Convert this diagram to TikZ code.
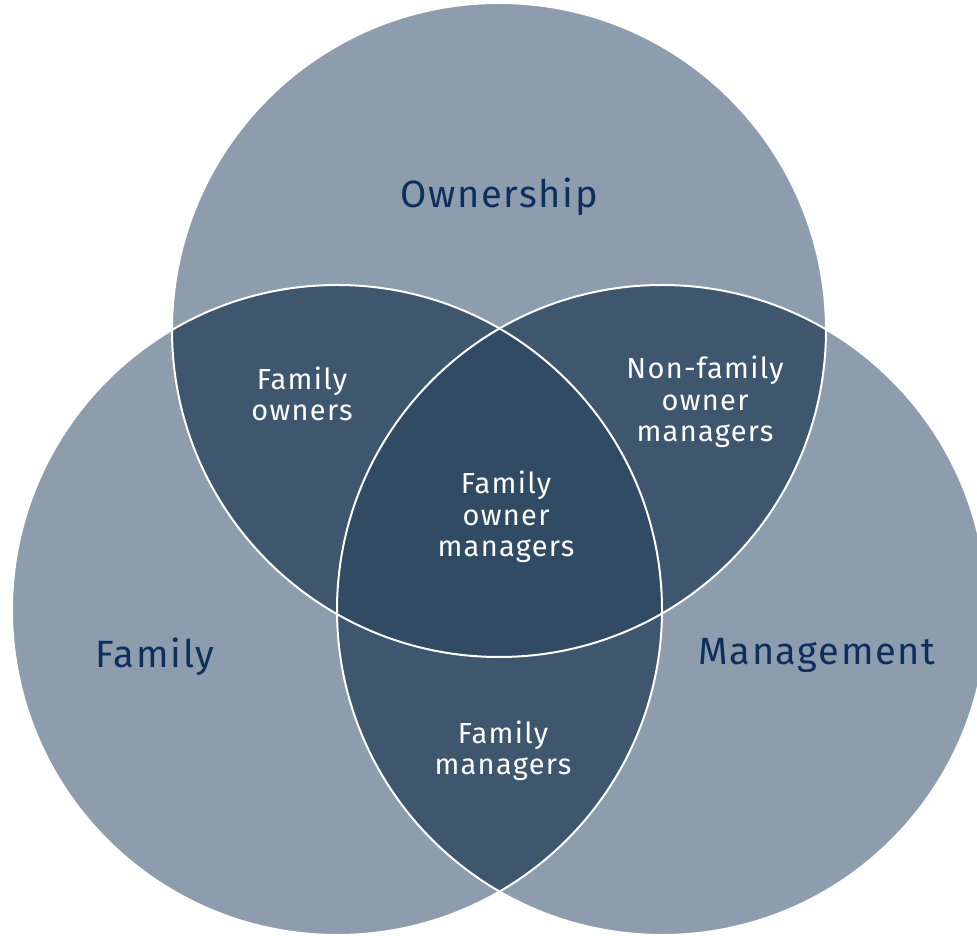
\documentclass[tikz,border=0pt]{standalone}
\usepackage{fontspec}
\setmainfont[LetterSpace=4.5]{Fira Sans}

\definecolor{setLight}{HTML}{8E9DAD}
\definecolor{setMid}{HTML}{3E576E}
\definecolor{setDark}{HTML}{314B64}
\definecolor{setInk}{HTML}{0E2F5E}

\tikzset{
  setname/.style = {text=setInk, font=\fontsize{38}{40}\selectfont},
  setlabel/.style = {text=white, align=center, font=\fontsize{29}{31.5}\selectfont},
  setrim/.style = {draw=white, line width=2pt}
}

\begin{document}
\begin{tikzpicture}[x=1pt,y=1pt]

    \useasboundingbox (0,0) rectangle (977,935);
    \clip (0,0) rectangle (977,935);
    \def\Own{(499,605) circle (327pt)}
    \def\Fam{(337,325) circle (325pt)}
    \def\Man{(662,325) circle (325pt)}

    % the three sets
    \fill[setLight] \Own;
    \fill[setLight] \Fam;
    \fill[setLight] \Man;
    % pairwise overlaps
    \begin{scope}
      \clip \Own;
      \fill[setMid] \Fam;
      \fill[setMid] \Man;
    \end{scope}
    \begin{scope}
      \clip \Fam;
      \fill[setMid] \Man;
    \end{scope}
    % all three
    \begin{scope}
      \clip \Own;
      \clip \Fam;
      \fill[setDark] \Man;
    \end{scope}
    \path[setrim] \Own;
    \path[setrim] \Fam;
    \path[setrim] \Man;

    \node[setname] (own) at (499,738) {Ownership};
    \node[setname] (fam) at (155,278) {Family};
    \node[setname] (man) at (817,280) {Management};

    \node[setlabel] (famown) at (302,541) {Family\\owners};
    \node[setlabel] (nonfam) at (705,533) {Non-family\\owner\\managers};
    \node[setlabel] (core) at (506,418) {Family\\owner\\managers};
    \node[setlabel] (fammgr) at (503,184) {Family\\managers};

\end{tikzpicture}
\end{document}
